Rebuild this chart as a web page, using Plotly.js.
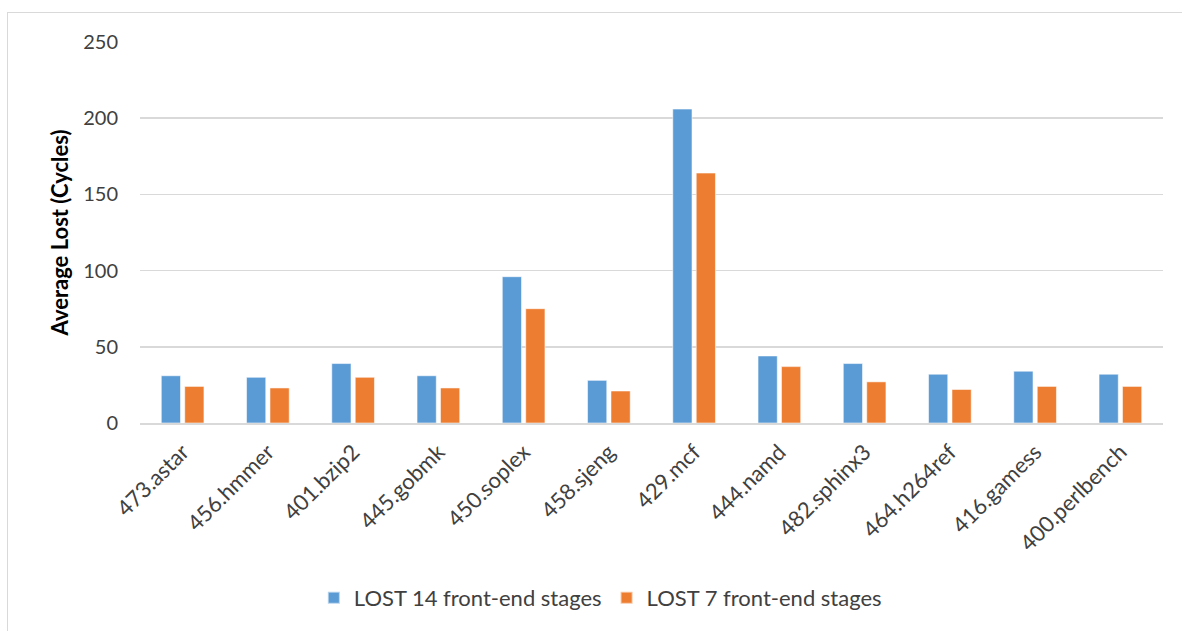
<!DOCTYPE html>
<html>
<head>
<meta charset="utf-8">
<script src="https://cdn.plot.ly/plotly-3.0.1.min.js"></script>
<style>
  html, body { margin: 0; padding: 0; background: #fff; overflow: hidden; }
  #chart { position: absolute; left: 0; top: 0; width: 1182px; height: 631px; }
  #frame {
    position: absolute; left: 7px; top: 12px; width: 1200px; height: 640px;
    border: 1.5px solid #D9D9D9; pointer-events: none; box-sizing: border-box;
  }
</style>
</head>
<body>
<div id="chart"></div>
<div id="frame"></div>
<script>
// SPEC CPU2006 benchmarks
const benchmarks = ["473.astar", "456.hmmer", "401.bzip2", "445.gobmk", "450.soplex", "458.sjeng",
                    "429.mcf", "444.namd", "482.sphinx3", "464.h264ref", "416.gamess", "400.perlbench"];

// Average cycles lost per configuration
const lost14 = [31, 30, 39, 31, 96, 28, 206, 44, 39, 32, 34, 32];
const lost7  = [24, 23, 30, 23, 75, 21, 164, 37, 27, 22, 24, 24];

const seriesNames = ["LOST 14 front-end stages", "LOST 7 front-end stages"];
const seriesColors = ["#5B9BD5", "#ED7D31"];

const yTicks = [0, 50, 100, 150, 200, 250];

const font = "Lato, 'Open Sans', sans-serif";

const traces = [lost14, lost7].map((vals, i) => ({
  type: "bar",
  name: seriesNames[i],
  x: benchmarks,
  y: vals,
  marker: { color: seriesColors[i], line: { color: "rgba(255,255,255,0.55)", width: 1 } },
  hoverinfo: "x+y+name"
}));

const layout = {
  width: 1182,
  height: 631,
  margin: { l: 140, r: 19, t: 42, b: 208 },
  paper_bgcolor: "rgba(0,0,0,0)",
  plot_bgcolor: "#fff",
  barmode: "group",
  bargap: 0.45,
  bargroupgap: 0.18,
  font: { family: font, size: 20, color: "#404040" },
  xaxis: {
    type: "category",
    tickangle: -45,
    tickfont: { family: font, size: 22, color: "#404040" },
    showgrid: false,
    showline: true,
    linecolor: "#D9D9D9",
    linewidth: 1.5,
    ticks: "",
    ticklabelstandoff: 6,
    automargin: false
  },
  yaxis: {
    range: [0, 250],
    tickvals: yTicks,
    ticktext: yTicks.map(String),
    tickfont: { family: font, size: 20, color: "#404040" },
    showgrid: true,
    gridcolor: "#D9D9D9",
    gridwidth: 1.5,
    zeroline: false,
    showline: false,
    ticks: "",
    ticklabelstandoff: 21,
    automargin: false,
    title: {
      text: "<b>Average Lost (Cycles)</b>",
      font: { family: font, size: 22, color: "#000" },
      standoff: 8
    }
  },
  showlegend: true,
  legend: {
    orientation: "h",
    x: 0.450,
    xanchor: "center",
    y: -0.459,
    yanchor: "middle",
    font: { family: font, size: 22, color: "#404040" },
    itemsizing: "constant",
    bgcolor: "rgba(0,0,0,0)"
  }
};

Plotly.newPlot("chart", traces, layout, { displayModeBar: false, staticPlot: true });
</script>
</body>
</html>
